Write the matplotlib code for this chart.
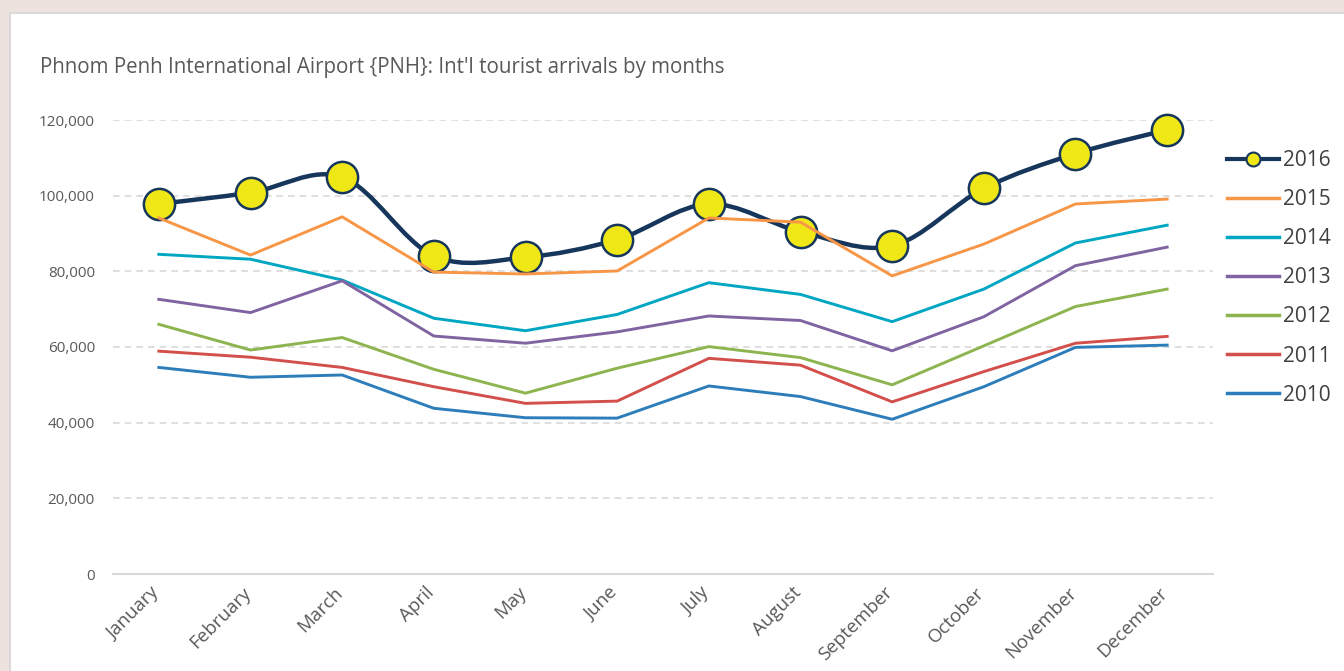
import numpy as np
import matplotlib.pyplot as plt
import matplotlib.transforms as mtransforms
from matplotlib.path import Path
from matplotlib.patches import PathPatch, Rectangle
from matplotlib.lines import Line2D
from matplotlib.ticker import FuncFormatter

plt.rcParams['font.family'] = ['Open Sans', 'DejaVu Sans']

months = ['January', 'February', 'March', 'April', 'May', 'June', 'July',
          'August', 'September', 'October', 'November', 'December']

# arrivals per month
y2016 = [97800, 100800, 104900, 84100, 83700, 88400, 97800, 90500, 86700, 101900, 111100, 117400]
y2015 = [94100, 84300, 94400, 79800, 79300, 80100, 94100, 93000, 78800, 87200, 97800, 99100]
y2014 = [84500, 83200, 77700, 67600, 64300, 68600, 77000, 73900, 66700, 75300, 87500, 92200]
y2013 = [72600, 69100, 77500, 62900, 61000, 64000, 68200, 67000, 59000, 68000, 81500, 86400]
y2012 = [66000, 59200, 62500, 54100, 47800, 54400, 60100, 57200, 50000, 60300, 70700, 75300]
y2011 = [58900, 57300, 54600, 49500, 45100, 45700, 57000, 55200, 45500, 53500, 61000, 62800]
y2010 = [54600, 52000, 52600, 43800, 41300, 41200, 49700, 46900, 40900, 49500, 59900, 60500]

years = ['2015', '2014', '2013', '2012', '2011', '2010']
series = [y2015, y2014, y2013, y2012, y2011, y2010]
colors = ['#f79646', '#00a6c2', '#8064a2', '#8db44e', '#d24f4b', '#2d7dbb']
navy = '#16365c'
yellow = '#f0e816'

fig = plt.figure(figsize=(13.44, 6.71), dpi=100)
fig.patch.set_facecolor('#ede2de')
# white card behind the chart
card = Rectangle((10 / 1344, -0.01), 1.0, (671 - 13) / 671 + 0.01,
                 transform=fig.transFigure, facecolor='white',
                 edgecolor='#d9d9d9', lw=1.5, zorder=0)
fig.patches.append(card)

ax = fig.add_axes([113 / 1344, (671 - 574) / 671, 1100 / 1344, 454 / 671])
ax.set_zorder(2)
ax.set_facecolor('none')
x = np.arange(len(months))

# smoothed 2016 line as cubic bezier segments (excel style smoothing)
pts = np.column_stack([x, y2016]).astype(float)
verts = [tuple(pts[0])]
codes = [Path.MOVETO]
for i in range(len(pts) - 1):
    p0 = pts[i - 1] if i > 0 else pts[i]
    p1, p2 = pts[i], pts[i + 1]
    p3 = pts[i + 2] if i + 2 < len(pts) else pts[i + 1]
    verts += [tuple(p1 + (p2 - p0) / 6), tuple(p2 - (p3 - p1) / 6), tuple(p2)]
    codes += [Path.CURVE4] * 3
ax.add_patch(PathPatch(Path(verts, codes), facecolor='none', edgecolor=navy,
                       lw=3.2, capstyle='round', zorder=3))
ax.plot(x, y2016, ls='none', marker='o', ms=22.5, mfc=yellow, mec=navy,
        mew=1.8, zorder=4, clip_on=False)

for i, (vals, c) in enumerate(zip(series, colors)):
    ax.plot(x, vals, color=c, lw=2.1, zorder=5 + i)

ax.set_xlim(-0.5, 11.5)
ax.set_ylim(0, 120000)
ax.set_yticks(np.arange(0, 120001, 20000))
ax.yaxis.set_major_formatter(FuncFormatter(lambda v, p: f'{int(v):,}'))
ax.grid(axis='y', color='#d9d9d9', ls=(0, (4, 3)), lw=1.2)
ax.set_axisbelow(True)
for s in ['top', 'right', 'left']:
    ax.spines[s].set_visible(False)
ax.spines['bottom'].set_color('#d9d9d9')
ax.spines['bottom'].set_linewidth(1.5)
ax.tick_params(length=0, colors='#595959', labelsize=11)
ax.tick_params(axis='y', pad=13)
ax.set_xticks(x)
ax.set_xticklabels(months, rotation=45, ha='right', va='center',
                   rotation_mode='anchor', fontsize=13.5)
offset = mtransforms.ScaledTranslation(-0.02, -0.11, fig.dpi_scale_trans)
for lbl in ax.get_xticklabels():
    lbl.set_transform(lbl.get_transform() + offset)

fig.text(40 / 1344, 1 - 68 / 671,
         "Phnom Penh International Airport {PNH}: Int'l tourist arrivals by months",
         fontsize=14.8, color='#595959', va='center', ha='left')

handles = [Line2D([], [], color=navy, lw=3, marker='o', ms=10, mfc=yellow,
                  mec=navy, mew=1.5)]
handles += [Line2D([], [], color=c, lw=2.5) for c in colors]
leg = fig.legend(handles, ['2016'] + years, loc='upper left',
                 bbox_to_anchor=(1227 / 1344, 1 - 150 / 671), frameon=False,
                 fontsize=15, labelspacing=0.87, handlelength=2.5,
                 handletextpad=0.2, borderpad=0, borderaxespad=0)
for t in leg.get_texts():
    t.set_color('#404040')

fig.savefig('out.png', dpi=100, facecolor=fig.get_facecolor())
